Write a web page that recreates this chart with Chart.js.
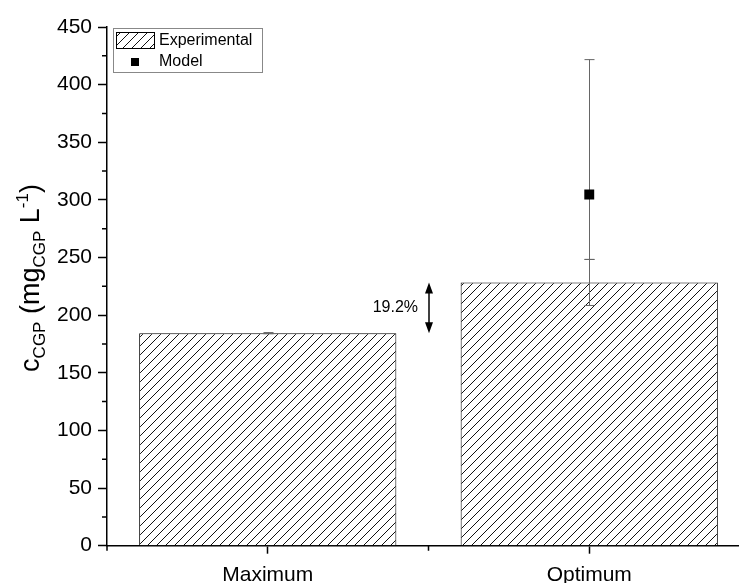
<!DOCTYPE html>
<html>
<head>
<meta charset="utf-8">
<script src="https://cdn.jsdelivr.net/npm/chart.js@4"></script>
<style>
  html, body { margin: 0; padding: 0; background: #fff; overflow: hidden; }
  #wrap { width: 760px; height: 583px; }
</style>
</head>
<body>
<div id="wrap"><canvas id="chart" width="760" height="583"></canvas></div>
<script>
// data
var categories = ['Maximum', 'Optimum'];
var expValues = [184.4, 228.4];
var expErr = [0.5, 20];
var modelValues = [null, 304.7];
var modelErrUp = [null, 117];
var modelErrDown = [null, 56.4];
var diffLabel = '19.2%';
var yTicks = [0, 50, 100, 150, 200, 250, 300, 350, 400, 450];

var FONT = '"Liberation Sans", Arial, sans-serif';

// hatch pattern like Origin's ///
function makeHatch() {
    var s = 9;
    var c = document.createElement('canvas');
    c.width = s; c.height = s;
    var g = c.getContext('2d');
    g.fillStyle = '#fff';
    g.fillRect(0, 0, s, s);
    g.strokeStyle = '#111';
    g.lineWidth = 1;
    g.beginPath();
    g.moveTo(0, s); g.lineTo(s, 0);
    g.moveTo(-1, 1); g.lineTo(1, -1);
    g.moveTo(s - 1, s + 1); g.lineTo(s + 1, s - 1);
    g.stroke();
    return g.createPattern(c, 'repeat');
}
var ctx = document.getElementById('chart').getContext('2d');
var hatch = makeHatch();

// error bars (after the bars, under the model points), minor ticks, arrow, legend, axis title
var extras = {
    id: 'extras',
    afterDatasetDraw: function (chart, args) {
        if (args.index !== 0) return;
        var c = chart.ctx, x = chart.scales.x, y = chart.scales.y;
        c.save();
        c.strokeStyle = '#666';
        c.lineWidth = 1;
        function errBar(px, lo, hi) {
            var yl = y.getPixelForValue(lo), yh = y.getPixelForValue(hi);
            c.beginPath();
            c.moveTo(px, yl); c.lineTo(px, yh);
            c.moveTo(px - 5, yl); c.lineTo(px + 5, yl);
            c.moveTo(px - 5, yh); c.lineTo(px + 5, yh);
            c.stroke();
        }
        for (var i = 0; i < categories.length; i++) {
            var px = Math.round(x.getPixelForValue(i)) + 0.5;
            errBar(px, expValues[i] - expErr[i], expValues[i] + expErr[i]);
            if (modelValues[i] != null) {
                errBar(px, modelValues[i] - modelErrDown[i], modelValues[i] + modelErrUp[i]);
            }
        }
        c.restore();
    },
    afterDraw: function (chart) {
        var c = chart.ctx, x = chart.scales.x, y = chart.scales.y, a = chart.chartArea;
        c.save();

        // minor ticks
        c.strokeStyle = '#000';
        c.lineWidth = 1.5;
        c.beginPath();
        for (var v = 25; v < 450; v += 50) {
            var py = y.getPixelForValue(v);
            c.moveTo(a.left, py); c.lineTo(a.left - 5, py);
        }
        for (var k = -0.5; k <= categories.length - 0.5; k += 1) {
            var pxm = (x.getPixelForValue(Math.floor(k)) + x.getPixelForValue(Math.ceil(k))) / 2;
            if (k < 0) pxm = a.left;
            if (k > categories.length - 1) pxm = a.right;
            c.moveTo(pxm, a.bottom); c.lineTo(pxm, a.bottom + 5);
        }
        c.stroke();

        // double arrow between the two bars
        var ax = Math.round((x.getPixelForValue(0) + x.getPixelForValue(1)) / 2);
        var yTop = y.getPixelForValue(expValues[1]);
        var yBot = y.getPixelForValue(expValues[0]);
        c.fillStyle = '#000';
        c.lineWidth = 1.5;
        c.beginPath();
        c.moveTo(ax, yTop + 8); c.lineTo(ax, yBot - 8);
        c.stroke();
        c.beginPath();
        c.moveTo(ax, yTop); c.lineTo(ax - 4, yTop + 11); c.lineTo(ax + 4, yTop + 11); c.closePath();
        c.moveTo(ax, yBot); c.lineTo(ax - 4, yBot - 11); c.lineTo(ax + 4, yBot - 11); c.closePath();
        c.fill();
        c.font = '16px ' + FONT;
        c.textAlign = 'right';
        c.textBaseline = 'middle';
        c.fillText(diffLabel, ax - 11, (yTop + yBot) / 2);

        // legend
        var lx = 113, ly = 28;
        c.strokeStyle = '#888';
        c.lineWidth = 1;
        c.fillStyle = '#fff';
        c.fillRect(lx, ly, 149, 44);
        c.strokeRect(lx + 0.5, ly + 0.5, 149, 44);
        c.fillStyle = hatch;
        c.fillRect(116, 32, 38, 16);
        c.strokeStyle = '#000';
        c.strokeRect(116.5, 32.5, 38, 16);
        c.fillStyle = '#000';
        c.fillRect(131, 58, 8, 8);
        c.font = '16px ' + FONT;
        c.textAlign = 'left';
        c.textBaseline = 'middle';
        c.fillText(chart.data.datasets[0].label, 159, 41);
        c.fillText(chart.data.datasets[1].label, 159, 62);

        // y axis title with sub/superscripts
        var parts = [
            ['c', 27, 0], ['CGP', 17, 6], [' (mg', 27, 0], ['CGP', 17, 6],
            [' L', 27, 0], ['-1', 17, -11], [')', 27, 0]
        ];
        var total = 0;
        parts.forEach(function (p) { c.font = p[1] + 'px ' + FONT; total += c.measureText(p[0]).width; });
        c.translate(39, 278);
        c.rotate(-Math.PI / 2);
        c.textBaseline = 'alphabetic';
        var cx = -total / 2;
        parts.forEach(function (p) {
            c.font = p[1] + 'px ' + FONT;
            c.fillText(p[0], cx, p[2]);
            cx += c.measureText(p[0]).width;
        });
        c.restore();
    }
};

new Chart(ctx, {
    type: 'bar',
    data: {
        labels: categories,
        datasets: [{
            label: 'Experimental',
            data: expValues,
            backgroundColor: hatch,
            borderColor: '#000',
            borderWidth: 1,
            barPercentage: 0.8,
            categoryPercentage: 1,
            order: 2
        }, {
            type: 'line',
            label: 'Model',
            data: modelValues,
            showLine: false,
            pointStyle: 'rect',
            pointRadius: 7,
            backgroundColor: '#000',
            borderColor: '#000',
            borderWidth: 0,
            order: 1
        }]
    },
    options: {
        responsive: false,
        animation: false,
        layout: { padding: { left: 0, right: 10, top: 27, bottom: 0 } },
        plugins: { legend: { display: false }, tooltip: { enabled: false } },
        scales: {
            x: {
                offset: true,
                grid: { display: true, offset: false, drawOnChartArea: false, tickLength: 8, tickWidth: 1.5, tickColor: '#000' },
                border: { display: true, color: '#000', width: 1.5 },
                ticks: { color: '#000', font: { family: FONT, size: 21 }, padding: 9 },
                afterFit: function (s) { s.height = 37.3; }
            },
            y: {
                min: 0,
                max: 450,
                afterBuildTicks: function (s) { s.ticks = yTicks.map(function (v) { return { value: v }; }); },
                grid: { display: true, drawOnChartArea: false, tickLength: 9, tickWidth: 1.5, tickColor: '#000' },
                border: { display: true, color: '#000', width: 1.5 },
                ticks: { color: '#000', font: { family: FONT, size: 21 }, padding: 6 },
                afterFit: function (s) { s.width = 107; }
            }
        }
    },
    plugins: [extras]
});
</script>
</body>
</html>
